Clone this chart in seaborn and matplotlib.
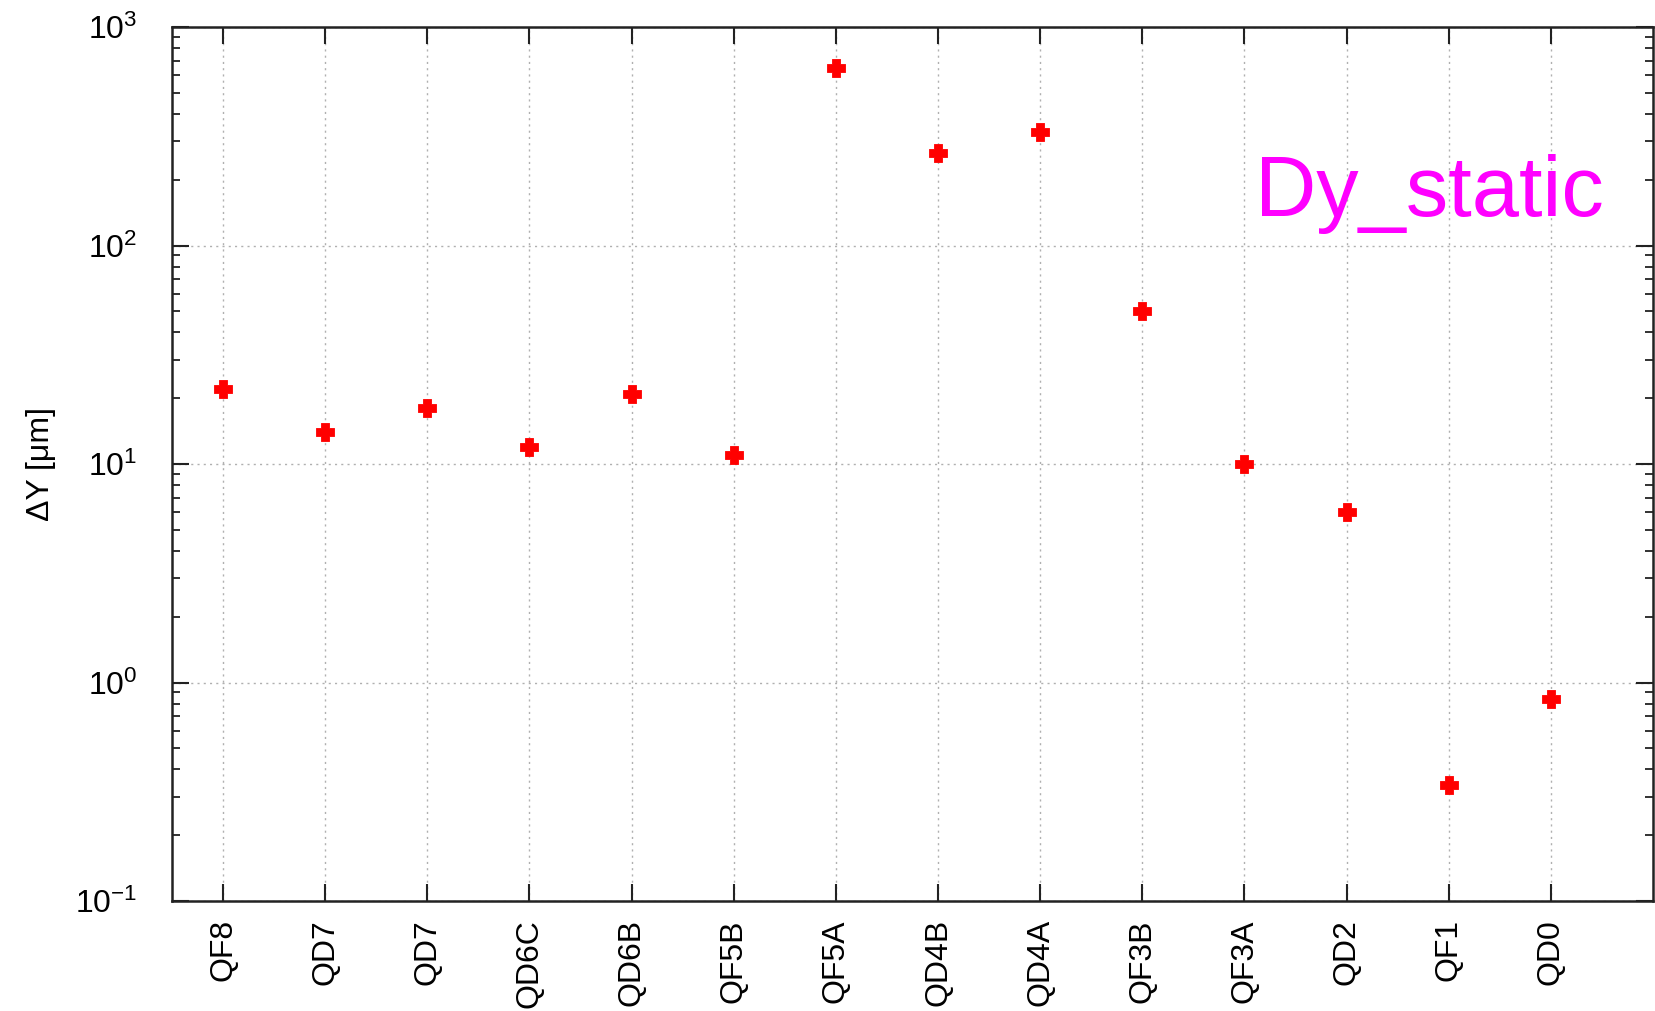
import numpy as np
import pandas as pd
import matplotlib
matplotlib.use("Agg")
import matplotlib.pyplot as plt
import seaborn as sns
from matplotlib.path import Path
from matplotlib.ticker import LogLocator, NullFormatter

# Magnet names along the beamline and the static vertical offset of each
magnets = ["QF8", "QD7", "QD7", "QD6C", "QD6B", "QF5B", "QF5A",
           "QD4B", "QD4A", "QF3B", "QF3A", "QD2", "QF1", "QD0"]
dy_static = [22, 14, 18, 12, 21, 11, 650, 265, 330, 50, 10, 6, 0.34, 0.84]

sns.set_theme(style="ticks")
plt.rcParams["font.family"] = ["Liberation Sans", "DejaVu Sans"]
plt.rcParams["mathtext.fontset"] = "custom"
plt.rcParams["mathtext.rm"] = "Liberation Sans"
plt.rcParams["mathtext.it"] = "Liberation Sans:italic"
plt.rcParams["mathtext.bf"] = "Liberation Sans:bold"
plt.rcParams["axes.unicode_minus"] = False
plt.rcParams["text.color"] = "black"
plt.rcParams["xtick.labelcolor"] = "black"
plt.rcParams["ytick.labelcolor"] = "black"
plt.rcParams["axes.labelcolor"] = "black"

# Thick filled plus used as the point symbol
h, w = 0.5, 0.25
plus_path = Path([(-w, h), (w, h), (w, w), (h, w), (h, -w), (w, -w), (w, -h),
                  (-w, -h), (-w, -w), (-h, -w), (-h, w), (-w, w), (-w, h)],
                 closed=True)

df = pd.DataFrame({"pos": np.arange(len(magnets)), "dy": dy_static})

fig = plt.figure(figsize=(16.56, 10.11), dpi=100)
ax = fig.add_axes([172 / 1656, 1 - 901 / 1011, (1653 - 172) / 1656, (901 - 27) / 1011])

sns.scatterplot(data=df, x="pos", y="dy", marker=plus_path, color="#ff0000",
                s=150, linewidth=0.6, edgecolor="#ff0000", ax=ax, zorder=3)

ax.set_yscale("log")
ax.set_ylim(0.1, 1000)
ax.set_xlim(-0.5, len(magnets))

ax.set_xticks(df["pos"])
ax.set_xticklabels(magnets, rotation=90, fontsize=23)
ax.yaxis.set_major_locator(LogLocator(base=10, numticks=10))
ax.yaxis.set_minor_locator(LogLocator(base=10, subs=np.arange(2, 10), numticks=50))
ax.yaxis.set_minor_formatter(NullFormatter())
ax.tick_params(axis="y", which="major", labelsize=23, pad=25)
ax.tick_params(axis="x", which="major", pad=13)

ax.tick_params(axis="both", which="major", direction="in", length=12, width=1.5,
               top=True, right=True, color="#222222")
ax.tick_params(axis="y", which="minor", direction="in", length=6, width=1.3,
               left=True, right=True, color="#222222")

for side in ["left", "right", "top", "bottom"]:
    ax.spines[side].set_visible(True)
    ax.spines[side].set_linewidth(1.8)
    ax.spines[side].set_color("#222222")

ax.grid(True, which="major", axis="both", linestyle=(0, (1.5, 3)),
        color="#b0b0b0", linewidth=1.0)
ax.set_axisbelow(True)

ax.set_xlabel("")
ax.set_ylabel("ΔY [μm]", fontsize=23)
ax.yaxis.set_label_coords(-0.078, 0.5)

ax.text(0.731, 0.784, "Dy_static", transform=ax.transAxes, color="#ff00ff",
        fontsize=61, ha="left", va="baseline")

fig.savefig("out.png", dpi=100)
